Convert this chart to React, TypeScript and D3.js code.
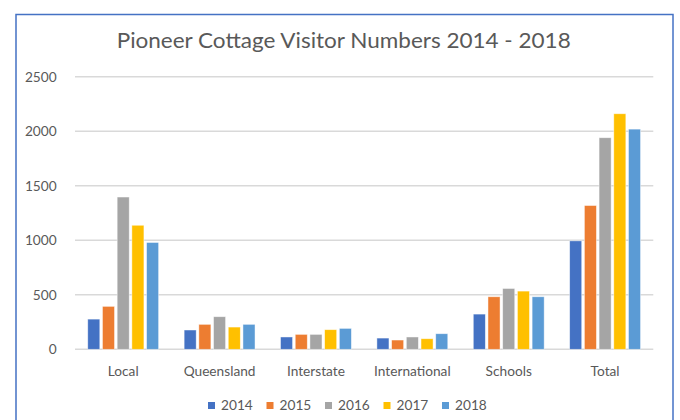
import React from "react";
import * as d3 from "d3";

const categories = ["Local", "Queensland", "Interstate", "International", "Schools", "Total"];
const years = ["2014", "2015", "2016", "2017", "2018"];
const values2014 = [277, 177, 113, 103, 323, 995];
const values2015 = [394, 229, 137, 85, 482, 1319];
const values2016 = [1397, 299, 137, 113, 558, 1941];
const values2017 = [1138, 204, 180, 97, 534, 2161];
const values2018 = [980, 229, 192, 143, 482, 2020];
const yTicks = [0, 500, 1000, 1500, 2000, 2500];
const colors = ["#4472C4", "#ED7D31", "#A5A5A5", "#FFC000", "#5B9BD5"];
const title = "Pioneer Cottage Visitor Numbers 2014 - 2018";

const seriesValues = [values2014, values2015, values2016, values2017, values2018];

export default function App() {
  const W = 680, H = 420;
  const font = "Lato, 'Open Sans', sans-serif";
  const x0 = d3.scaleBand<string>().domain(categories).range([75, 653.3]).padding(0);
  const x1 = d3
    .scaleBand<string>()
    .domain(years)
    .range([0, x0.bandwidth()])
    .paddingInner(0.18)
    .paddingOuter(0.867);
  const y = d3.scaleLinear().domain([0, 2500]).range([349.3, 76.8]);

  const legendStep = 58.5;
  const legendStart = 208;

  return (
    <div style={{ position: "fixed", left: 0, top: 0, width: W, height: H, background: "#fff" }}>
      <svg width={W} height={H} style={{ display: "block" }}>
        <rect x={0} y={0} width={W} height={H} fill="#fff" />
        <rect x={16} y={14.5} width={657} height={420} fill="#fff" stroke="#4472C4" strokeWidth={1.5} />
        <text
          x={343.7}
          y={48}
          textAnchor="middle"
          fontFamily={font}
          fontSize={20.5}
          fill="#595959"
          textLength={454}
          lengthAdjust="spacingAndGlyphs"
        >
          {title}
        </text>
        {yTicks.map((t) => (
          <g key={t}>
            <line x1={75} x2={653.3} y1={y(t)} y2={y(t)} stroke="#D9D9D9" strokeWidth={1.5} />
            <text
              x={56.7}
              y={y(t)}
              dy="0.35em"
              textAnchor="end"
              fontFamily={font}
              fontSize={13.7}
              fill="#595959"
            >
              {t}
            </text>
          </g>
        ))}
        {categories.map((c, ci) => (
          <g key={c} transform={`translate(${x0(c)},0)`}>
            {years.map((yr, si) => {
              const v = seriesValues[si][ci];
              return (
                <rect
                  key={yr}
                  x={x1(yr)}
                  y={y(v)}
                  width={x1.bandwidth()}
                  height={y(0) - y(v)}
                  fill={colors[si]}
                  stroke="#fff"
                  strokeOpacity={0.6}
                  strokeWidth={0.75}
                />
              );
            })}
            <text
              x={x0.bandwidth() / 2}
              y={376}
              textAnchor="middle"
              fontFamily={font}
              fontSize={13.7}
              fill="#595959"
            >
              {c}
            </text>
          </g>
        ))}
        {years.map((yr, i) => (
          <g key={yr} transform={`translate(${legendStart + i * legendStep},0)`}>
            <rect x={0} y={402} width={7} height={7} fill={colors[i]} />
            <text x={13} y={405.7} dy="0.35em" fontFamily={font} fontSize={13.7} fill="#595959">
              {yr}
            </text>
          </g>
        ))}
      </svg>
    </div>
  );
}
